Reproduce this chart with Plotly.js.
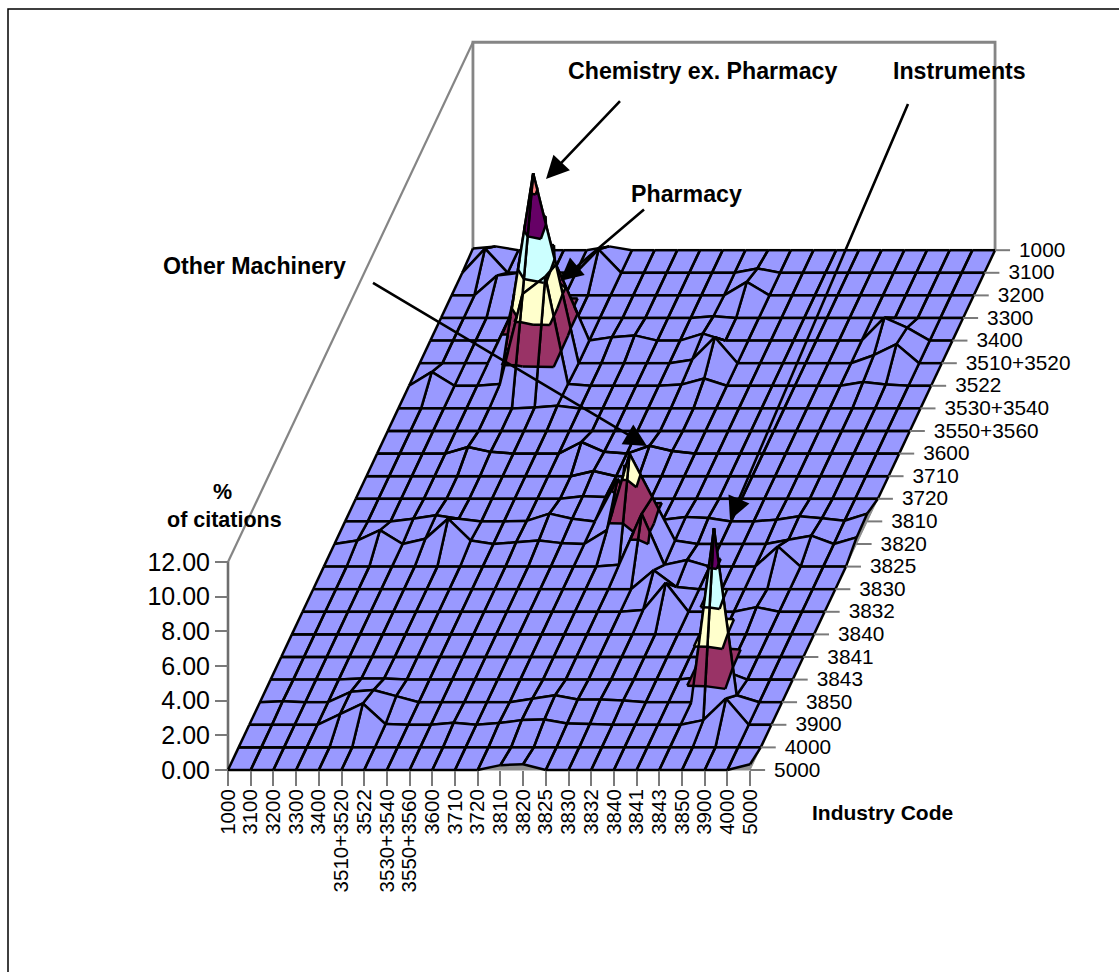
<!DOCTYPE html>
<html><head><meta charset="utf-8">
<script src="https://cdn.plot.ly/plotly-3.0.1.min.js"></script>
<style>html,body{margin:0;padding:0;background:#fff}</style></head>
<body><div id="chart" style="width:1119px;height:972px"></div>
<script>
const categories=["1000","3100","3200","3300","3400","3510+3520","3522","3530+3540","3550+3560","3600","3710","3720","3810","3820","3825","3830","3832","3840","3841","3843","3850","3900","4000","5000"];
const valueTicks=[0,2,4,6,8,10,12];
const bandEdges=[0,2,4,6,8,10,12];
const bandColors=["#9999FF","#993366","#FFFFCC","#CCFFFF","#660066","#FF8080"];
// citation share, rows = depth axis (1000 at the back), columns = front axis
const citations=[
[.1,.22,0,0,0,0,.22,0,0,0,0,0,0,0,0,0,0,0,0,0,0,0,0,0],
[0,1.4,0,0,0,0,1.35,0,0,0,0,0,0,.25,0,0,0,0,0,0,0,0,0,0],
[0,0,1.15,1.3,0,0,0,0,0,0,0,0,0,.78,0,0,0,0,0,0,0,0,0,0],
[0,0,0,0,.2,.6,0,0,0,0,0,0,.1,0,0,0,0,0,0,0,0,0,0,0],
[0,0,0,0,.8,4,3,0,.2,.3,0,0,.4,0,0,0,0,0,0,0,1.33,.75,0,0],
[0,0,0,0,2.7,10.95,5.7,0,0,0,0,0,.2,1.5,0,0,0,0,0,0,.46,1.1,0,0],
[0,.8,0,0,.1,5.3,6.3,.1,0,0,0,0,.07,.42,0,0,0,0,0,0,.22,.07,0,0],
[0,0,0,0,0,0,.05,.15,0,0,0,0,0,0,0,0,0,0,0,0,0,0,0,0],
[0,0,0,0,0,0,0,0,0,0,0,0,0,0,0,0,0,0,0,0,0,0,0,0],
[0,0,0,0,.38,.1,0,0,0,.67,.1,0,.45,.15,0,0,0,0,0,0,0,0,0,0],
[0,0,0,0,0,0,0,0,0,0,.3,0,0,0,0,0,0,0,0,0,0,0,0,0],
[0,0,0,0,0,0,0,0,0,0,.15,.1,0,0,0,0,0,0,0,0,0,0,0,0],
[0,0,0,.15,.36,.15,0,0,.03,.45,.15,0,2.45,0,.1,.25,.2,0,0,.1,.3,.18,.04,.45],
[0,.2,.8,0,.3,1.46,.2,0,.1,.2,.05,0,.8,5.2,2.7,.2,0,0,0,0,.25,.48,0,.38],
[0,0,0,0,0,0,0,0,0,0,0,0,0,.1,3.05,.1,.38,0,0,0,1.17,0,0,0],
[0,0,0,0,0,0,0,0,0,0,0,0,0,0,0,1.1,.13,0,0,0,0,0,0,0],
[0,0,0,0,0,0,0,0,0,0,0,0,0,0,0,.1,1.67,0,0,0,.27,0,0,0],
[0,0,0,0,0,0,0,0,0,0,0,0,0,0,0,0,0,0,0,0,0,0,0,0],
[0,0,0,0,0,0,0,0,0,0,0,0,0,0,0,0,0,0,0,0,0,0,0,0],
[0,0,0,0,.06,.06,0,0,0,0,0,0,0,0,0,0,0,0,0,.15,.5,0,0,0],
[0,.05,0,0,.6,.7,.35,0,0,0,0,0,.2,.4,.15,.15,.1,0,0,0,10.03,.4,0,0],
[0,0,0,0,.62,1.23,.04,0,0,.12,0,.1,.27,.3,.07,.05,0,0,0,0,.27,1.52,0,0],
[0,0,0,0,0,0,0,0,0,0,0,0,0,0,0,0,0,0,0,0,0,0,0,0],
[0,0,0,0,0,0,0,0,0,0,0,0,.28,.33,0,0,0,0,0,0,0,0,0,.33]
];

const W=1119,H=972,orgX=228,orgY=770,unitX=22.7,unitY=17.33;
const skewX=10.65/unitX,skewY=22.6/unitY;
const N=categories.length,last=N-1;
const FONT='"Liberation Sans",Arial,sans-serif';
const proj=(r,c,z)=>[c+(last-r)*skewX,z+(last-r)*skewY];
const dx=p=>(p-orgX)/unitX, dy=p=>(orgY-p)/unitY;

function clip(poly,level,keepAbove){
  const out=[];
  for(let i=0;i<poly.length;i++){
    const a=poly[i],b=poly[(i+1)%poly.length];
    const ia=keepAbove?a[2]>=level:a[2]<=level, ib=keepAbove?b[2]>=level:b[2]<=level;
    if(ia)out.push(a);
    if(ia!==ib){const t=(level-a[2])/(b[2]-a[2]);out.push([a[0]+t*(b[0]-a[0]),a[1]+t*(b[1]-a[1]),level]);}
  }
  return out;
}
function pushPoly(buf,poly){
  poly.forEach(p=>{const q=proj(p[0],p[1],p[2]);buf.x.push(q[0]);buf.y.push(q[1]);});
  const q=proj(poly[0][0],poly[0][1],poly[0][2]);buf.x.push(q[0],null);buf.y.push(q[1],null);
}
function pushSeg(buf,a,b){
  const p=proj(a[0],a[1],a[2]),q=proj(b[0],b[1],b[2]);
  buf.x.push(p[0],q[0],null);buf.y.push(p[1],q[1],null);
}
const V=(r,c)=>[r,c,citations[r][c]];
function addCell(r,c,fills,lines){
  const a=V(r,c),b=V(r,c+1),d=V(r+1,c),e=V(r+1,c+1);
  const tris=(a[2]+e[2]>=b[2]+d[2])?[[a,b,e],[a,e,d]]:[[a,b,d],[b,e,d]];
  tris.forEach(t=>{
    for(let k=0;k<bandColors.length;k++){
      let p=clip(t,bandEdges[k],true); if(p.length>2)p=clip(p,bandEdges[k+1],false);
      if(p.length>2)pushPoly(fills[k],p);
    }
    for(let k=1;k<bandEdges.length-1;k++){
      const L=bandEdges[k],pts=[];
      for(let i=0;i<3;i++){
        const u=t[i],v=t[(i+1)%3];
        if((u[2]-L)*(v[2]-L)<0){const s=(L-u[2])/(v[2]-u[2]);pts.push([u[0]+s*(v[0]-u[0]),u[1]+s*(v[1]-u[1]),L]);}
      }
      if(pts.length===2)pushSeg(lines,pts[0],pts[1]);
    }
  });
  pushSeg(lines,a,b);pushSeg(lines,b,e);pushSeg(lines,e,d);pushSeg(lines,d,a);
}
const freshFills=()=>bandColors.map(()=>({x:[],y:[]}));
const traces=[];
function emit(fills,lines){
  fills.forEach((f,k)=>{ if(f.x.length) traces.push({type:'scatter',mode:'none',x:f.x,y:f.y,fill:'toself',fillcolor:bandColors[k],hoverinfo:'skip',showlegend:false,cliponaxis:false}); });
  if(lines.x.length) traces.push({type:'scatter',mode:'lines',x:lines.x,y:lines.y,connectgaps:false,line:{color:'#000',width:2.5,simplify:false},hoverinfo:'skip',showlegend:false,cliponaxis:false});
}
// floor, seen where the surface lifts off it
const floor=[proj(0,0,0),proj(0,last,0),proj(last,last,0),proj(last,0,0),proj(0,0,0)];
traces.push({type:'scatter',mode:'lines',x:floor.map(p=>p[0]),y:floor.map(p=>p[1]),fill:'toself',fillcolor:'#8f8f8f',line:{color:'#8f8f8f',width:1},hoverinfo:'skip',showlegend:false});
// walls
const wallB=[proj(0,0,0),proj(0,0,12),proj(0,last,12),proj(0,last,0)];
traces.push({type:'scatter',mode:'lines',x:wallB.map(p=>p[0]),y:wallB.map(p=>p[1]),line:{color:'#858585',width:2.8},hoverinfo:'skip',showlegend:false});
const wallL=[proj(0,0,12),proj(last,0,12)];
traces.push({type:'scatter',mode:'lines',x:wallL.map(p=>p[0]),y:wallL.map(p=>p[1]),line:{color:'#858585',width:2.2},hoverinfo:'skip',showlegend:false});
const axisV=[proj(last,0,0),proj(last,0,12)];
traces.push({type:'scatter',mode:'lines',x:axisV.map(p=>p[0]),y:axisV.map(p=>p[1]),line:{color:'#6e6e6e',width:2.6},hoverinfo:'skip',showlegend:false});

let runF=freshFills(),runL={x:[],y:[]};
const flush=()=>{emit(runF,runL);runF=freshFills();runL={x:[],y:[]};};
for(let r=0;r<last;r++){
  for(let c=last-1;c>=0;c--){
    const zs=[citations[r][c],citations[r][c+1],citations[r+1][c],citations[r+1][c+1]];
    if(Math.max(...zs)-Math.min(...zs)>0.7){
      flush();
      const f=freshFills(),l={x:[],y:[]};
      addCell(r,c,f,l);emit(f,l);
    } else addCell(r,c,runF,runL);
  }
}
flush();
// depth axis
const depthTicks={x:[],y:[]},depthText={x:[],y:[]};
categories.forEach((_,r)=>{
  const p=proj(r,last,0);
  depthTicks.x.push(p[0],p[0]+15/unitX,null);depthTicks.y.push(p[1],p[1],null);
  depthText.x.push(p[0]+24/unitX);depthText.y.push(p[1]-1.5/unitY);
});
traces.push({type:'scatter',mode:'lines',x:depthTicks.x,y:depthTicks.y,line:{color:'#7a7a7a',width:2},hoverinfo:'skip',showlegend:false});
traces.push({type:'scatter',mode:'text',x:depthText.x,y:depthText.y,text:categories,textposition:'middle right',textfont:{family:FONT,size:20.8,color:'#000'},hoverinfo:'skip',showlegend:false,cliponaxis:false});

const label=(text,xp,yp,size)=>({text:text,x:dx(xp),y:dy(yp),xref:'x',yref:'y',showarrow:false,xanchor:'center',yanchor:'middle',font:{family:FONT,size:size,color:'#000',weight:700}});
const arrow=(x0,y0,x1,y1)=>({text:' ',x:dx(x1),y:dy(y1),ax:dx(x0),ay:dy(y0),xref:'x',yref:'y',axref:'x',ayref:'y',showarrow:true,arrowhead:2,arrowsize:1.75,arrowwidth:2.6,arrowcolor:'#000',standoff:0,startstandoff:0});
const layout={
  width:W,height:H,margin:{l:0,r:0,t:0,b:0},paper_bgcolor:'#fff',plot_bgcolor:'#fff',showlegend:false,hovermode:false,
  xaxis:{range:[dx(0),dx(W)],anchor:'free',position:(H-orgY)/H,tickmode:'array',tickvals:categories.map((_,i)=>i),ticktext:categories,tickangle:-90,ticks:'outside',ticklen:15,tickwidth:2,tickcolor:'#7a7a7a',ticklabelstandoff:-5,showgrid:false,zeroline:false,showline:false,tickfont:{family:FONT,size:20.5,color:'#000'}},
  yaxis:{range:[dy(H),dy(0)],anchor:'free',position:orgX/W,tickmode:'array',tickvals:valueTicks,tickformat:'.2f',ticks:'outside',ticklen:13,tickwidth:2,tickcolor:'#7a7a7a',showgrid:false,zeroline:false,showline:false,tickfont:{family:FONT,size:25,color:'#000'}},
  shapes:[{type:'rect',xref:'paper',yref:'paper',x0:8/W,x1:1.01,y0:1-9/H,y1:-0.01,line:{color:'#000',width:1.5},fillcolor:'rgba(0,0,0,0)',layer:'below'}],
  annotations:[
    label('Chemistry ex. Pharmacy',702,71,23.2),
    label('Instruments',959,71,23.2),
    label('Pharmacy',686,194,23.2),
    label('Other Machinery',254,266,23.2),
    label('%',222,492,21.5),
    label('of citations',224,520,21.5),
    label('Industry Code',882,812,21),
    arrow(623,98,546,179),
    arrow(647,207,560,281),
    arrow(370,281,647,446),
    arrow(911,97,730,520)
  ]
};
Plotly.newPlot('chart',traces,layout,{staticPlot:true,displayModeBar:false});
</script></body></html>
